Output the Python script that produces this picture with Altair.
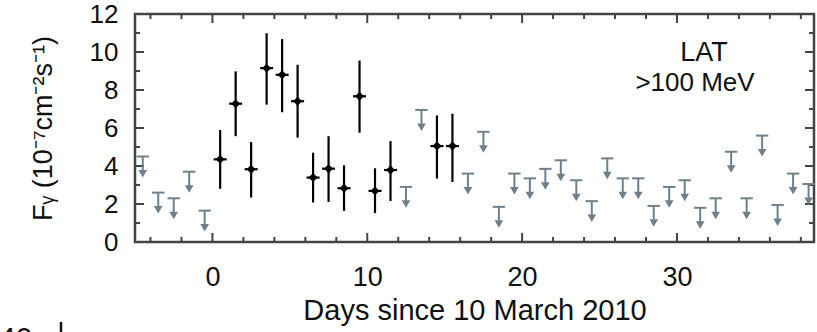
import altair as alt
import pandas as pd

# Detections (days since 10 March 2010, flux in 1e-7 cm^-2 s^-1)
det_day = [0.5, 1.5, 2.5, 3.5, 4.5, 5.5, 6.5, 7.5, 8.5, 9.5, 10.5, 11.5, 14.5, 15.5]
det_flux = [4.35, 7.28, 3.83, 9.15, 8.8, 7.41, 3.39, 3.86, 2.83, 7.67, 2.69, 3.79, 5.05, 5.05]
det_lo = [2.8, 5.57, 2.34, 7.23, 6.83, 5.49, 2.08, 2.11, 1.64, 5.75, 1.52, 2.16, 3.34, 3.16]
det_hi = [5.9, 8.98, 5.26, 10.99, 10.68, 9.33, 4.7, 5.57, 4.04, 9.55, 3.88, 5.31, 6.66, 6.75]

# Upper limits
ul_day = [-4.5, -3.5, -2.5, -1.5, -0.5, 12.5, 13.5, 16.5, 17.5, 18.5, 19.5, 20.5, 21.5,
          22.5, 23.5, 24.5, 25.5, 26.5, 27.5, 28.5, 29.5, 30.5, 31.5, 32.5, 33.5, 34.5,
          35.5, 36.5, 37.5, 38.5]
ul_val = [4.5, 2.6, 2.3, 3.7, 1.65, 2.9, 6.95, 3.6, 5.8, 1.85, 3.6, 3.35, 3.85,
          4.3, 3.25, 2.15, 4.4, 3.35, 3.35, 1.9, 2.9, 3.25, 1.8, 2.3, 4.75, 2.3,
          5.6, 1.95, 3.6, 3.05]

x_major = [0, 10, 20, 30]
x_minor = [-4, -2, 2, 4, 6, 8, 12, 14, 16, 18, 22, 24, 26, 28, 32, 34, 36, 38]
y_major = [0, 2, 4, 6, 8, 10, 12]
y_minor = [1, 3, 5, 7, 9, 11]

W, H = 679, 228
FONT = "Liberation Sans"
GREY = "#6d808c"
AX = "#444444"

xs = alt.Scale(domain=[-5, 38.85], nice=False, zero=False)
ys = alt.Scale(domain=[0, 12], nice=False, zero=False)

XAX = alt.Axis(values=x_major, title="Days since 10 March 2010",
               ticks=False, domain=False, grid=False,
               labelFontSize=27, labelPadding=22,
               titleFontSize=29, titlePadding=6, titleFontWeight="normal")
YAX = alt.Axis(values=y_major, title="Fᵧ (10⁻⁷cm⁻²s⁻¹)",
               ticks=False, domain=False, grid=False,
               labelFontSize=26, labelPadding=17,
               titleFontSize=27, titlePadding=32, titleFontWeight="normal")


def X(f):
    return alt.X(f, scale=xs, axis=XAX)


def Y(f):
    return alt.Y(f, scale=ys, axis=YAX)


det = pd.DataFrame(dict(day=det_day, flux=det_flux, lo=det_lo, hi=det_hi))
ul = pd.DataFrame(dict(day=ul_day, v=ul_val))


def xticks(vals, length):
    d = pd.DataFrame({"t": vals})
    top = alt.Chart(d).mark_rule(color=AX, strokeWidth=2).encode(
        x=X("t:Q"), y=alt.value(0), y2=alt.value(length))
    bot = alt.Chart(d).mark_rule(color=AX, strokeWidth=2).encode(
        x=X("t:Q"), y=alt.value(H), y2=alt.value(H - length))
    return [top, bot]


def yticks(vals, length):
    d = pd.DataFrame({"t": vals})
    left = alt.Chart(d).mark_rule(color=AX, strokeWidth=2).encode(
        y=Y("t:Q"), x=alt.value(0), x2=alt.value(length))
    right = alt.Chart(d).mark_rule(color=AX, strokeWidth=2).encode(
        y=Y("t:Q"), x=alt.value(W), x2=alt.value(W - length))
    return [left, right]


ticks = xticks(x_major, 9) + xticks(x_minor, 5) + yticks(y_major, 9) + yticks(y_minor, 5)

# detections
err = alt.Chart(det).mark_rule(color="black", strokeWidth=2.2).encode(
    x=X("day:Q"), y=Y("lo:Q"), y2="hi:Q")
hbar = alt.Chart(det).transform_calculate(a="datum.day - 0.42", b="datum.day + 0.42").mark_rule(
    color="black", strokeWidth=2.2).encode(x=X("a:Q"), x2="b:Q", y=Y("flux:Q"))
pts = alt.Chart(det).mark_point(shape="diamond", filled=True, size=80, color="black", opacity=1).encode(
    x=X("day:Q"), y=Y("flux:Q"))

# upper limits
ulc = alt.Chart(ul).transform_calculate(
    a="datum.day - 0.4", b="datum.day + 0.4", s="datum.v - 0.8")
tbar = ulc.mark_rule(color=GREY, strokeWidth=2).encode(x=X("a:Q"), x2="b:Q", y=Y("v:Q"))
stem = ulc.mark_rule(color=GREY, strokeWidth=2).encode(x=X("day:Q"), y=Y("v:Q"), y2="s:Q")
head = ulc.mark_point(shape="triangle-down", filled=True, size=75, color=GREY, opacity=1,
                      yOffset=2).encode(x=X("day:Q"), y=Y("s:Q"))

lab1 = alt.Chart(pd.DataFrame({"t": ["LAT"]})).mark_text(
    font=FONT, fontSize=27, color="#111", align="center", baseline="middle").encode(
    text="t:N", x=alt.value(569), y=alt.value(39))
lab2 = alt.Chart(pd.DataFrame({"t": [">100 MeV"]})).mark_text(
    font=FONT, fontSize=26, color="#111", align="center", baseline="middle").encode(
    text="t:N", x=alt.value(560), y=alt.value(69))

# fragment of the panel below (cut by the picture's edge, as in the reference)
frag = alt.Chart(pd.DataFrame({"t": ["40"]})).mark_text(
    font=FONT, fontSize=30, color="#111", align="left", baseline="alphabetic").encode(
    text="t:N", x=alt.value(-136), y=alt.value(334))
frag_bar = alt.Chart(pd.DataFrame({"t": [0]})).mark_rule(color="#111", strokeWidth=2.5).encode(
    x=alt.value(-74), y=alt.value(308), y2=alt.value(330))

chart = alt.layer(*ticks, tbar, stem, head, err, hbar, pts, lab1, lab2, frag, frag_bar).properties(
    width=W, height=H,
    padding={"left": 135, "top": 14, "right": 3, "bottom": 90},
    autosize=alt.AutoSizeParams(type="none"),
).configure_view(stroke=AX, strokeWidth=2.5).configure_axis(
    labelFont=FONT, titleFont=FONT, labelColor="#111", titleColor="#111")

chart.save("out.html", embed_options={"renderer": "svg", "actions": False})
